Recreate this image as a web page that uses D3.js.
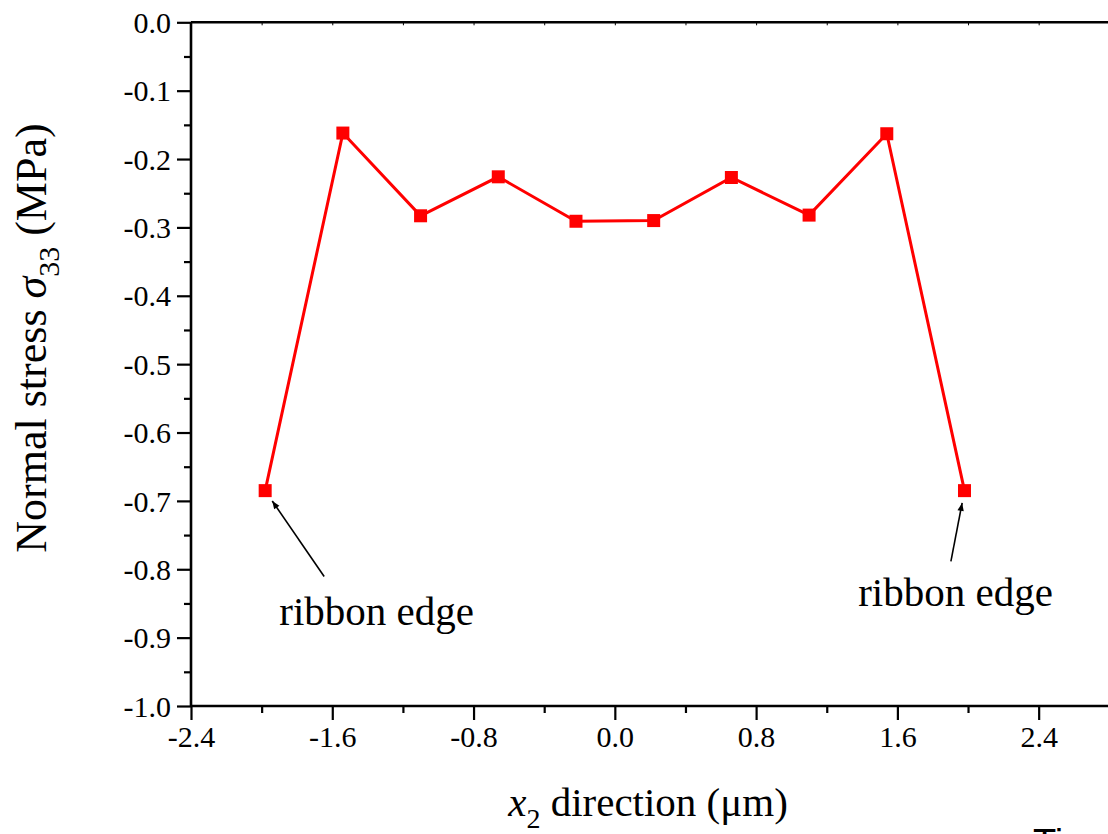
<!DOCTYPE html>
<html>
<head>
<meta charset="utf-8">
<script src="https://cdn.jsdelivr.net/npm/d3@7"></script>
<style>
  html, body { margin: 0; padding: 0; background: #fff; overflow: hidden; }
  svg { display: block; }
  svg text { font-family: "Liberation Serif", "Times New Roman", Times, serif !important; fill: #000; }
  svg text.sans { font-family: "Liberation Sans", Arial, sans-serif !important; }
</style>
</head>
<body>
<svg id="chart" width="1108" height="834"></svg>
<script>
// ---- data ----
const xPositions = [-1.98, -1.54, -1.10, -0.66, -0.22, 0.22, 0.66, 1.10, 1.54, 1.98];
const stressValues = [-0.685, -0.162, -0.283, -0.226, -0.291, -0.290, -0.227, -0.282, -0.163, -0.685];
const xTickValues = [-2.4, -1.6, -0.8, 0.0, 0.8, 1.6, 2.4];
const xTickLabels = ["-2.4", "-1.6", "-0.8", "0.0", "0.8", "1.6", "2.4"];
const yTickValues = [0, -0.1, -0.2, -0.3, -0.4, -0.5, -0.6, -0.7, -0.8, -0.9, -1.0];
const yTickLabels = ["0.0", "-0.1", "-0.2", "-0.3", "-0.4", "-0.5", "-0.6", "-0.7", "-0.8", "-0.9", "-1.0"];
const xMinorTicks = [-2.0, -1.2, -0.4, 0.4, 1.2, 2.0, 2.8];
const yMinorTicks = [-0.05, -0.15, -0.25, -0.35, -0.45, -0.55, -0.65, -0.75, -0.85, -0.95];
const annotationLabels = ["ribbon edge", "ribbon edge"];
const annotationTextPos = [[-1.90, -0.881], [1.378, -0.8544]];
const annotationTailPos = [[-1.646, -0.8105], [1.903, -0.7886]];
const annotationPointIndex = [0, 9];

// ---- layout ----
const svg = d3.select("#chart");
const x = d3.scaleLinear().domain([-2.4, 2.8]).range([191, 1109.3]);
const y = d3.scaleLinear().domain([0, -1]).range([22.3, 706]);

svg.append("defs").append("marker")
  .attr("id", "arrow")
  .attr("viewBox", "0 0 10 10")
  .attr("refX", 10).attr("refY", 5)
  .attr("markerWidth", 9).attr("markerHeight", 8)
  .attr("markerUnits", "userSpaceOnUse")
  .attr("orient", "auto")
  .append("path").attr("d", "M0,1 L10,5 L0,9 Z").attr("fill", "#000");

const axisW = 2.6;
// bottom
const gx = svg.append("g").attr("transform", `translate(0,${y(-1)})`);
gx.call(d3.axisBottom(x).tickValues(xTickValues).tickSize(14).tickFormat((d, i) => xTickLabels[i]));
gx.append("g").call(d3.axisBottom(x).tickValues(xMinorTicks).tickSize(7).tickFormat(""));
// left
const gy = svg.append("g").attr("transform", `translate(${x(-2.4)},0)`);
gy.call(d3.axisLeft(y).tickValues(yTickValues).tickSize(14).tickFormat((d, i) => yTickLabels[i]));
gy.append("g").call(d3.axisLeft(y).tickValues(yMinorTicks).tickSize(7).tickFormat(""));
// top
const gt = svg.append("g").attr("transform", `translate(0,${y(0)})`);
gt.call(d3.axisTop(x).tickValues(xTickValues.concat(xMinorTicks)).tickSize(-3).tickFormat(""));
// right
const gr = svg.append("g").attr("transform", `translate(${x(2.8)},0)`);
gr.call(d3.axisRight(y).tickValues([]).tickSize(0).tickFormat(""));

[gx, gy, gt, gr].forEach(g => g.attr("font-family", null).attr("font-size", null));
svg.selectAll("g g .domain").remove();
gx.select(".domain").attr("d", `M${x(-2.4)},0H${x(2.8)}`);
gy.select(".domain").attr("d", `M0,${y(0)}V${y(-1)}`);
gt.select(".domain").attr("d", `M${x(-2.4)},0H${x(2.8)}`);
gr.select(".domain").attr("d", `M0,${y(0)}V${y(-1)}`);
svg.selectAll(".domain").attr("stroke", "#000").attr("stroke-width", axisW);
svg.selectAll(".tick line").attr("stroke", "#000").attr("stroke-width", 2.2);
gt.selectAll(".tick line").attr("stroke-width", 1);
gx.selectAll(".tick text").attr("font-size", 30).attr("dy", "0.71em").attr("y", 20);
gy.selectAll(".tick text").attr("font-size", 30).attr("x", -20).attr("dy", "0.34em");

// data line
const pts = xPositions.map((v, i) => [v, stressValues[i]]);
svg.append("path")
  .datum(pts)
  .attr("fill", "none")
  .attr("stroke", "#ff0000")
  .attr("stroke-width", 3)
  .attr("d", d3.line().x(d => x(d[0])).y(d => y(d[1])));

const ms = 13;
svg.selectAll("rect.marker").data(pts).enter().append("rect")
  .attr("class", "marker")
  .attr("x", d => x(d[0]) - ms / 2)
  .attr("y", d => y(d[1]) - ms / 2)
  .attr("width", ms).attr("height", ms)
  .attr("fill", "#ff0000");

// annotations
annotationLabels.forEach((lab, i) => {
  const p = pts[annotationPointIndex[i]];
  const tail = annotationTailPos[i];
  const tx = x(tail[0]), ty = y(tail[1]);
  const px = x(p[0]), py = y(p[1]);
  const dx = px - tx, dy = py - ty;
  const len = Math.hypot(dx, dy);
  const stop = 12.5;
  svg.append("line")
    .attr("x1", tx).attr("y1", ty)
    .attr("x2", px - dx / len * stop).attr("y2", py - dy / len * stop)
    .attr("stroke", "#000").attr("stroke-width", 1.6)
    .attr("marker-end", "url(#arrow)");
  svg.append("text")
    .attr("x", x(annotationTextPos[i][0]))
    .attr("y", y(annotationTextPos[i][1]))
    .attr("font-size", 41)
    .text(lab);
});

// axis titles
const xt = svg.append("text").attr("x", 648).attr("y", 816).attr("text-anchor", "middle").attr("font-size", 41);
xt.append("tspan").attr("font-style", "italic").text("x");
xt.append("tspan").attr("font-size", 28).attr("dy", 12).text("2");
xt.append("tspan").attr("dy", -12).text(" direction (μm)");

const yt = svg.append("text")
  .attr("transform", `translate(46,338) rotate(-90)`)
  .attr("text-anchor", "middle").attr("font-size", 44);
yt.append("tspan").text("Normal stress ");
yt.append("tspan").attr("font-style", "italic").text("σ");
yt.append("tspan").attr("font-size", 30).attr("dy", 13).text("33");
yt.append("tspan").attr("dy", -13).text(" (MPa)");

// cut-off caption fragment at bottom right
svg.append("text").attr("class", "sans").attr("x", 1033).attr("y", 856).attr("font-size", 38).text("Ti");
</script>
</body>
</html>
